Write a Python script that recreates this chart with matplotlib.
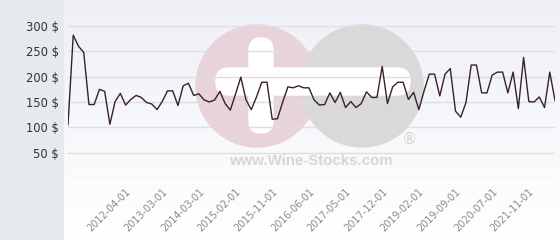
import matplotlib
matplotlib.use("Agg")
import matplotlib.pyplot as plt
from matplotlib.patches import Circle, FancyBboxPatch, Rectangle
import numpy as np

# price series (one point per quote)
prices = [105, 282, 260, 248, 145, 145, 175, 171, 106, 151, 167, 144, 155, 163, 159, 149,
          146, 135, 151, 172, 172, 143, 182, 187, 163, 166, 154, 150, 154, 171, 147, 134,
          166, 199, 154, 135, 160, 189, 189, 116, 117, 150, 180, 178, 182, 178, 178,
          154, 144, 145, 168, 149, 169, 139, 151, 139, 147, 170, 159, 159, 220, 147,
          180, 189, 189, 155, 169, 135, 172, 205, 205, 162, 205, 216, 132, 120, 149, 223,
          223, 168, 168, 203, 209, 209, 168, 209, 137, 238, 151, 150, 160, 139, 209, 153]
tick_idx = [11, 18, 25, 32, 39, 46, 53, 60, 67, 74, 81, 88]
tick_labels = ["2012-04-01", "2013-03-01", "2014-03-01", "2015-02-01", "2015-11-01",
               "2016-06-01", "2017-05-01", "2017-12-01", "2019-02-01", "2019-09-01",
               "2020-07-01", "2021-11-01"]
y_ticks = [50, 100, 150, 200, 250, 300]

W, H = 560, 240
fig = plt.figure(figsize=(W / 100, H / 100), dpi=100)

# background layer in pixel coords
bg = fig.add_axes([0, 0, 1, 1])
bg.set_xlim(0, W)
bg.set_ylim(H, 0)
bg.axis("off")
grad = np.linspace(0, 1, 100)[:, None]
top = np.array([238, 240, 246]) / 255
bot = np.array([255, 255, 255]) / 255
img = top + (bot - top) * grad[..., None]
bg.imshow(np.repeat(img, 2, axis=1), extent=[0, W, H, 0], aspect="auto", zorder=0)
bg.add_patch(Rectangle((0, 0), 63, H, color="#e6eaee", zorder=1))

# watermark
bg.add_patch(Circle((257, 86), 61, color="#e9d3da", zorder=2))
bg.add_patch(Circle((362, 86), 61, color="#d9d9da", zorder=2))
bg.add_patch(FancyBboxPatch((216, 68), 194, 27, boxstyle="round,pad=0,rounding_size=13",
                            color="white", zorder=3))
bg.add_patch(FancyBboxPatch((249, 38), 24, 95, boxstyle="round,pad=0,rounding_size=12",
                            color="white", zorder=3))
bg.text(311, 161, "www.Wine-Stocks.com", ha="center", va="center", fontsize=10.8,
        fontweight="bold", color="#d6d6d6", family="Liberation Sans", zorder=3)
bg.text(410, 139, "®", ha="center", va="center", fontsize=11,
        color="#d6d6d6", zorder=3)

# chart
ax = fig.add_axes([68 / W, 1 - 178 / H, (555 - 68) / W, 152 / H])
ax.set_facecolor("none")
x = np.arange(len(prices))
ax.plot(x, prices, color="#3a1f2c", lw=1.0, zorder=5)
ax.set_xlim(0, len(prices) - 1)
ax.set_ylim(0, 300)
ax.set_yticks([0] + y_ticks)
ax.set_yticklabels([""] + [f"{v} $" for v in y_ticks])
ax.set_xticks(tick_idx)
ax.set_xticklabels(tick_labels, rotation=45, ha="right", rotation_mode="anchor")
ax.grid(axis="y", color="#dedede", lw=1)
ax.grid(axis="x", visible=False)
ax.tick_params(axis="y", length=0, pad=6.5, labelsize=8.3, labelcolor="#333333")
ax.tick_params(axis="x", length=0, pad=6, labelsize=7, labelcolor="#8a8a8a")
for s in ax.spines.values():
    s.set_visible(False)

fig.savefig("out.png", dpi=100)
